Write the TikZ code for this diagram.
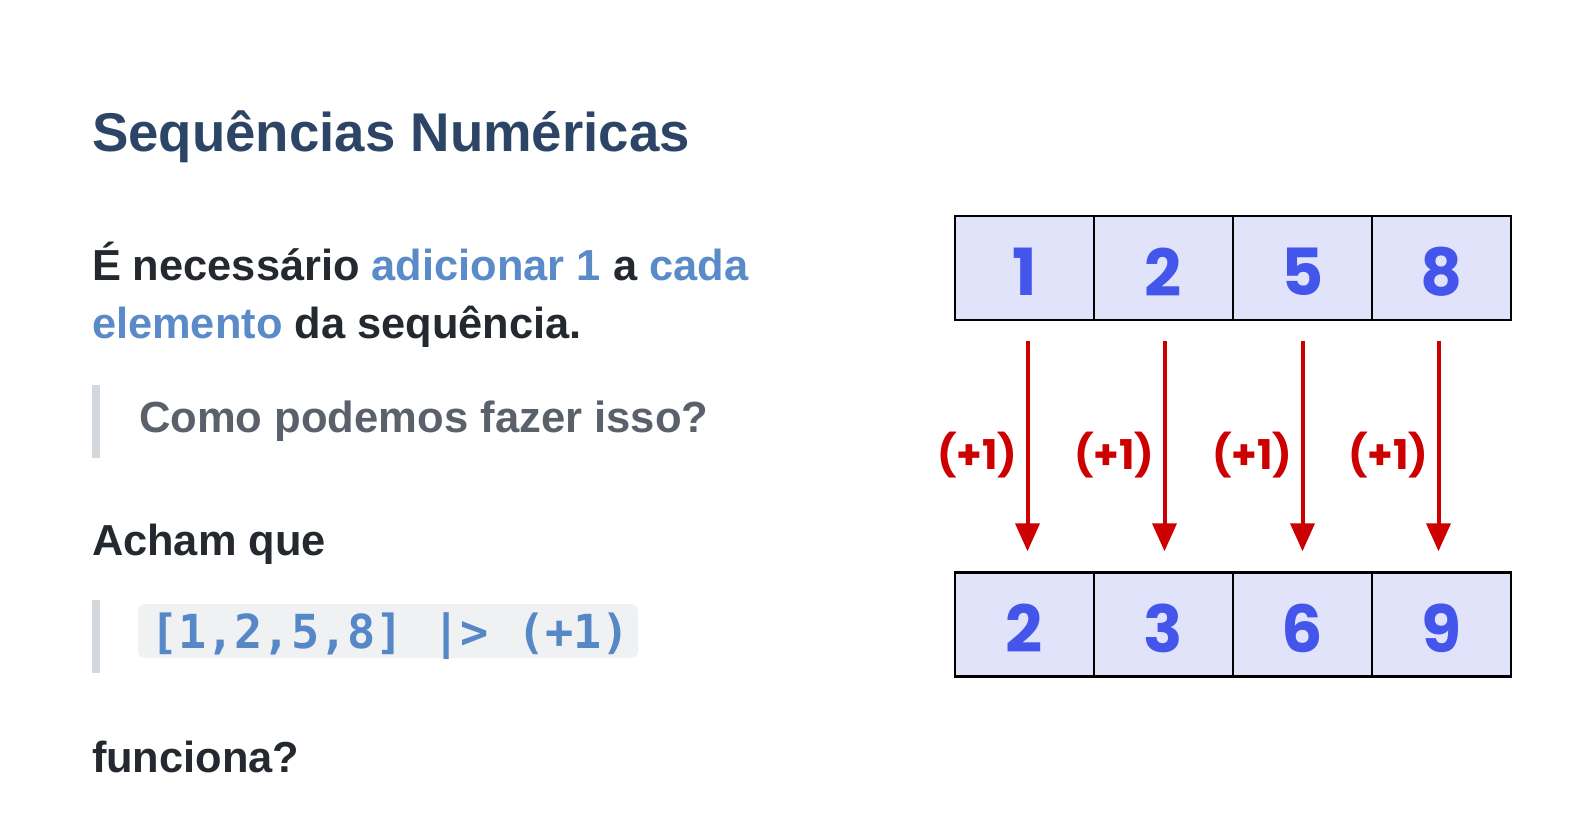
\documentclass[tikz,border=0pt]{standalone}
\usepackage{fontspec}
\setmainfont{Liberation Sans}
\newfontfamily\popfont{Poppins}
\newfontfamily\codefont{DejaVu Sans Mono}
\usetikzlibrary{arrows.meta}
\definecolor{titlec}{RGB}{44,69,102}
\definecolor{bodyc}{RGB}{36,41,47}
\definecolor{hlc}{RGB}{90,138,200}
\definecolor{quotec}{RGB}{91,97,107}
\definecolor{barc}{RGB}{211,215,222}
\definecolor{codebg}{RGB}{239,241,243}
\definecolor{codec}{RGB}{86,136,199}
\definecolor{digitc}{RGB}{67,85,235}
\definecolor{cellc}{RGB}{224,227,250}
\definecolor{redc}{RGB}{204,0,0}
\tikzset{
  txt/.style={anchor=base west, inner sep=0pt, outer sep=0pt},
  bodyfont/.style={font=\bfseries\fontsize{43.4}{50}\selectfont},
  cellbox/.style={draw=black, line width=2.5pt, fill=cellc, minimum width=139pt, minimum height=104pt, inner sep=0pt},
  digit/.style={inner sep=0pt, text=digitc, font=\popfont\bfseries\fontsize{65}{65}\selectfont},
  addarrow/.style={draw=redc, line width=4pt, -{Triangle[width=24pt,length=28pt]}},
  addlabel/.style={anchor=east, inner sep=0pt, text=redc, font=\popfont\bfseries\fontsize{41}{41}\selectfont},
  qbar/.style={fill=barc, draw=none}
}
\begin{document}
\begin{tikzpicture}[x=1pt,y=-1pt]
\useasboundingbox[fill=white] (0,0) rectangle (1588,834);
% title
\node[txt, text=titlec, font=\bfseries\fontsize{54.6}{60}\selectfont] (title) at (92,152) {Sequências Numéricas};
% paragraph
\node[txt, text=bodyc, bodyfont] (p1) at (92,281) {É necessário \textcolor{hlc}{adicionar 1} a \textcolor{hlc}{cada}};
\node[txt, text=bodyc, bodyfont] (p2) at (92,339) {\textcolor{hlc}{elemento} da sequência.};
% quote 1
\fill[qbar] (92,385) rectangle (100,458);
\node[txt, text=quotec, font=\bfseries\fontsize{43.6}{50}\selectfont] (q1) at (139,432) {Como podemos fazer isso?};
% acham que
\node[txt, text=bodyc, bodyfont] (p3) at (92,555) {Acham que};
% quote 2 with code
\fill[qbar] (92,600) rectangle (100,673);
\fill[codebg, rounded corners=7pt] (138,604) rectangle (638,658);
\node[txt, text=codec, font=\codefont\bfseries\fontsize{46.9}{50}\selectfont] (code) at (150,648) {[1,2,5,8]\ |>\ (+1)};
% funciona
\node[txt, text=bodyc, bodyfont] (p4) at (92,772) {funciona?};
% top row
\foreach \i/\x/\d in {1/1024.5/1,2/1163.5/2,3/1302.5/5,4/1441.5/8}{
  \node[cellbox] (t\i) at (\x,268) {};
  \node[digit] (td\i) at ([yshift=-4pt]t\i.center) {\d};
}
% bottom row
\foreach \i/\x/\d in {1/1024.5/2,2/1163.5/3,3/1302.5/6,4/1441.5/9}{
  \node[cellbox] (b\i) at (\x,624.5) {};
  \node[digit] (bd\i) at ([yshift=-4pt]b\i.center) {\d};
}
% arrows
\foreach \i/\dx in {1/3,2/1,3/0,4/-3}{
  \draw[addarrow] ([xshift=\dx pt,yshift=-20pt]t\i.south) -- ([xshift=\dx pt,yshift=20pt]b\i.north)
    node[pos=0.5, addlabel, xshift=-8pt, yshift=-9pt] (l\i) {(+1)};
}
\end{tikzpicture}
\end{document}
